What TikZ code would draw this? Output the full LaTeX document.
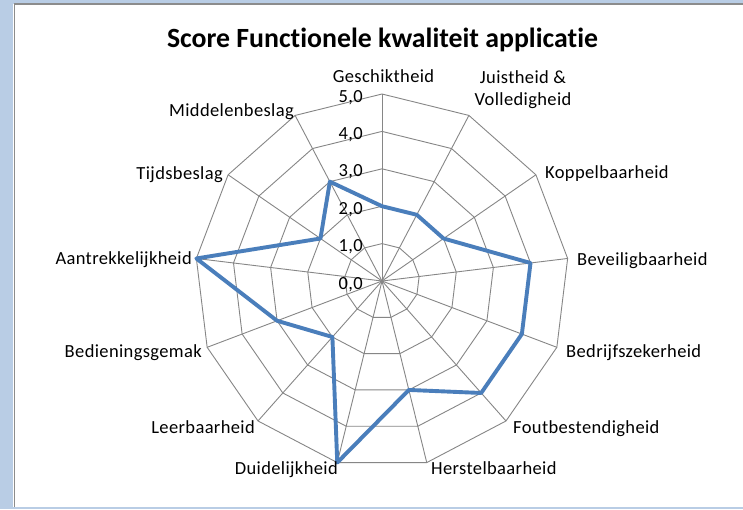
\documentclass[tikz,border=0pt]{standalone}
\usepackage{fontspec}
\setmainfont{Carlito}[Ligatures=NoCommon]
\newfontfamily\labfont[LetterSpace=2,Ligatures=NoCommon]{Carlito}
\definecolor{framebl}{HTML}{B9CDE5}
\definecolor{framegr}{HTML}{8C8C8C}
\definecolor{gridgr}{HTML}{868686}
\definecolor{serieblue}{HTML}{4A7EBB}
\begin{document}
\begin{tikzpicture}[x=1pt,y=-1pt,
  grid/.style={draw=gridgr, line width=0.9pt},
  serie/.style={draw=serieblue, line width=3.9pt, line join=round},
  axlab/.style={font=\labfont\fontsize{18.5}{22}\selectfont, inner sep=0pt},
  ticklab/.style={font=\labfont\fontsize{18.5}{22}\selectfont, inner sep=0pt, anchor=base east},
  titlelab/.style={font=\fontsize{27.8}{32}\selectfont\bfseries, inner sep=0pt, anchor=base}]
\useasboundingbox (0,0) rectangle (743,509);
\fill[framebl] (0,0) rectangle (743,509);
\fill[white] (13,3.5) rectangle (743,507);
\draw[framegr, line width=1.6pt] (14.5,507) -- (14.5,4.2) -- (743,4.2);
\node[titlelab] (title) at (382.5,47) {Score Functionele kwaliteit applicatie};
\begin{scope}[shift={(382,281)}]
  \coordinate (C) at (0,0);
  % rings
  \foreach \k in {1,...,5} {
    \pgfmathsetmacro{\rr}{\k*37.4}
    \draw[grid] (-90:\rr) \foreach \i in {1,...,12} { -- ({-90+\i*360/13}:\rr) } -- cycle;
  }
  % spokes
  \foreach \i in {0,...,12} {
    \coordinate (o\i) at ({-90+\i*360/13}:187);
    \draw[grid] (C) -- (o\i);
  }
  % tick labels
  \foreach \k in {0,...,5} {
    \node[ticklab] (t\k) at (-19,{-\k*37.4+8}) {\k,0};
  }
  % series
  \foreach \i/\v in {0/2,1/2,2/2,3/4,4/4,5/4,6/3,7/5,8/2,9/3,10/5,11/2,12/3} {
    \coordinate (p\i) at ({-90+\i*360/13}:{\v*37.4});
  }
  \draw[serie] (p0) -- (p1) -- (p2) -- (p3) -- (p4) -- (p5) -- (p6) -- (p7) -- (p8) -- (p9) -- (p10) -- (p11) -- (p12) -- cycle;
\end{scope}
% axis labels
\node[axlab, anchor=base] (l0) at (383.5,82.7) {Geschiktheid};
\node[axlab, anchor=base, align=center] (l1) at (523,105) {Juistheid \&\\Volledigheid};
\node[axlab, anchor=base west] (l2) at (545,178) {Koppelbaarheid};
\node[axlab, anchor=base west] (l3) at (577,265) {Beveiligbaarheid};
\node[axlab, anchor=base west] (l4) at (566,357) {Bedrijfszekerheid};
\node[axlab, anchor=base west] (l5) at (513,433) {Foutbestendigheid};
\node[axlab, anchor=base west] (l6) at (431,474) {Herstelbaarheid};
\node[axlab, anchor=base east] (l7) at (338,474) {Duidelijkheid};
\node[axlab, anchor=base east] (l8) at (255,433) {Leerbaarheid};
\node[axlab, anchor=base east] (l9) at (202,357) {Bedieningsgemak};
\node[axlab, anchor=base east] (l10) at (192,264) {Aantrekkelijkheid};
\node[axlab, anchor=base east] (l11) at (223,179) {Tijdsbeslag};
\node[axlab, anchor=base east] (l12) at (294,116) {Middelenbeslag};
\end{tikzpicture}
\end{document}
